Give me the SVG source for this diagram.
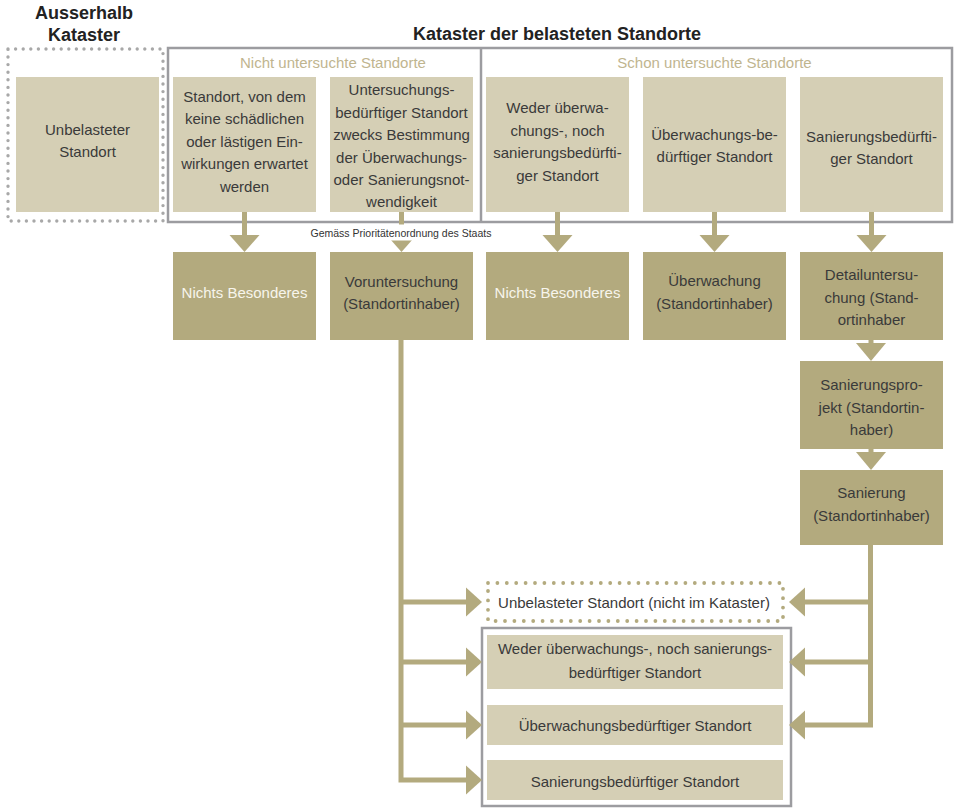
<svg xmlns="http://www.w3.org/2000/svg" width="955" height="808" viewBox="0 0 955 808">
<style>
  .t{font-family:"Liberation Sans",Arial,sans-serif;font-size:15px;fill:#3a3a3a;text-anchor:middle}
  .w{fill:#f7f5ec}
  .h{font-family:"Liberation Sans",Arial,sans-serif;font-size:18px;font-weight:bold;fill:#222;text-anchor:middle}
  .sub{font-family:"Liberation Sans",Arial,sans-serif;font-size:15px;fill:#bfb58f;text-anchor:middle}
  .sm{font-family:"Liberation Sans",Arial,sans-serif;font-size:10.5px;fill:#333;text-anchor:middle}
  .lt{fill:#d5cfb5}
  .dk{fill:#b3aa7e}
  .frame{fill:none;stroke:#9c9ca0;stroke-width:2.5}
  .dotg{fill:none;stroke:#a8a8a8;stroke-width:3.4;stroke-linecap:round;stroke-dasharray:0 7.6}
  .dott{fill:none;stroke:#b3aa7e;stroke-width:3.8;stroke-linecap:round;stroke-dasharray:0 9.4}
  .stem{stroke:#b3aa7e;stroke-width:5;fill:none}
  .head{fill:#b3aa7e}
</style>

<!-- titles -->
<g id="titles">
  <text class="h" x="84" y="19">Ausserhalb</text>
  <text class="h" x="84" y="41">Kataster</text>
  <text class="h" x="557" y="40">Kataster der belasteten Standorte</text>
</g>

<!-- frames -->
<g id="frames">
  <rect class="dotg" x="8" y="49" width="155" height="172"/>
  <rect class="frame" x="168" y="48" width="784" height="174"/>
  <line class="frame" x1="481" y1="48" x2="481" y2="222"/>
  <text class="sub" x="333" y="68">Nicht untersuchte Standorte</text>
  <text class="sub" x="714.5" y="68">Schon untersuchte Standorte</text>
  <rect class="frame" x="482" y="628" width="309" height="178"/>
  <rect class="dott" x="488" y="583" width="295" height="38"/>
</g>

<!-- connectors -->
<g id="connectors">
  <line class="stem" x1="244.5" y1="212" x2="244.5" y2="237"/>
  <polygon class="head" points="229.5,235 259.5,235 244.5,252"/>
  <line class="stem" x1="401.5" y1="212" x2="401.5" y2="237"/>
  <polygon class="head" points="386.5,235 416.5,235 401.5,252"/>
  <line class="stem" x1="557.5" y1="212" x2="557.5" y2="237"/>
  <polygon class="head" points="542.5,235 572.5,235 557.5,252"/>
  <line class="stem" x1="714.5" y1="212" x2="714.5" y2="237"/>
  <polygon class="head" points="699.5,235 729.5,235 714.5,252"/>
  <line class="stem" x1="871.5" y1="212" x2="871.5" y2="237"/>
  <polygon class="head" points="856.5,235 886.5,235 871.5,252"/>

  <line class="stem" x1="871" y1="340" x2="871" y2="345"/>
  <polygon class="head" points="856,343 886,343 871,361"/>
  <line class="stem" x1="871" y1="449" x2="871" y2="454"/>
  <polygon class="head" points="856,452 886,452 871,470"/>

  <path class="stem" d="M401 340 V782 M398.5 602 H468 M398.5 662 H468 M398.5 725 H468 M398.5 780 H468"/>
  <polygon class="head" points="466,587.5 466,616.5 482,602"/>
  <polygon class="head" points="466,647.5 466,676.5 482,662"/>
  <polygon class="head" points="466,710.5 466,739.5 482,725"/>
  <polygon class="head" points="466,765.5 466,794.5 482,780"/>

  <path class="stem" d="M870.5 545 V727 M873 602 H803 M873 662 H803 M873 725 H803"/>
  <polygon class="head" points="805,587.5 805,616.5 789,602"/>
  <polygon class="head" points="805,647.5 805,676.5 789,662"/>
  <polygon class="head" points="805,710.5 805,739.5 789,725"/>

  <rect x="306" y="224.5" width="190" height="16" fill="#fff"/>
  <text class="sm" x="401" y="237">Gemäss Prioritätenordnung des Staats</text>
</g>

<!-- top row -->
<g id="unbelastet">
  <rect class="lt" x="16" y="77" width="143" height="135"/>
  <text class="t" x="87.5" y="135">Unbelasteter</text>
  <text class="t" x="87.5" y="157">Standort</text>
</g>
<g id="keine-einwirkungen">
  <rect class="lt" x="173" y="77" width="143" height="135"/>
  <text class="t" x="244.5" y="101.5">Standort, von dem</text>
  <text class="t" x="244.5" y="124">keine schädlichen</text>
  <text class="t" x="244.5" y="146.5">oder lästigen Ein-</text>
  <text class="t" x="244.5" y="169">wirkungen erwartet</text>
  <text class="t" x="244.5" y="191.5">werden</text>
</g>
<g id="untersuchungsbeduerftig">
  <rect class="lt" x="330" y="77" width="143" height="135"/>
  <text class="t" x="401.5" y="95">Untersuchungs-</text>
  <text class="t" x="401.5" y="117.5">bedürftiger Standort</text>
  <text class="t" x="401.5" y="140">zwecks Bestimmung</text>
  <text class="t" x="401.5" y="162.5">der Überwachungs-</text>
  <text class="t" x="401.5" y="185">oder Sanierungsnot-</text>
  <text class="t" x="401.5" y="207">wendigkeit</text>
</g>
<g id="weder">
  <rect class="lt" x="486" y="77" width="143" height="135"/>
  <text class="t" x="557.5" y="113">Weder überwa-</text>
  <text class="t" x="557.5" y="135.5">chungs-, noch</text>
  <text class="t" x="557.5" y="158">sanierungsbedürfti-</text>
  <text class="t" x="557.5" y="180.5">ger Standort</text>
</g>
<g id="ueberwachungsbeduerftig">
  <rect class="lt" x="643" y="77" width="143" height="135"/>
  <text class="t" x="714.5" y="140">Überwachungs-be-</text>
  <text class="t" x="714.5" y="162">dürftiger Standort</text>
</g>
<g id="sanierungsbeduerftig">
  <rect class="lt" x="800" y="77" width="143" height="135"/>
  <text class="t" x="871.5" y="141.5">Sanierungsbedürfti-</text>
  <text class="t" x="871.5" y="164">ger Standort</text>
</g>

<!-- second row -->
<g id="nichts1">
  <rect class="dk" x="173" y="252" width="143" height="88"/>
  <text class="t w" x="244.5" y="298">Nichts Besonderes</text>
</g>
<g id="voruntersuchung">
  <rect class="dk" x="330" y="252" width="143" height="88"/>
  <text class="t" x="401.5" y="286.5">Voruntersuchung</text>
  <text class="t" x="401.5" y="309">(Standortinhaber)</text>
</g>
<g id="nichts2">
  <rect class="dk" x="486" y="252" width="143" height="88"/>
  <text class="t w" x="557.5" y="298">Nichts Besonderes</text>
</g>
<g id="ueberwachung">
  <rect class="dk" x="643" y="252" width="143" height="88"/>
  <text class="t" x="714.5" y="286">Überwachung</text>
  <text class="t" x="714.5" y="308.5">(Standortinhaber)</text>
</g>
<g id="detailuntersuchung">
  <rect class="dk" x="800" y="252" width="143" height="88"/>
  <text class="t" x="871.5" y="280">Detailuntersu-</text>
  <text class="t" x="871.5" y="302.5">chung (Stand-</text>
  <text class="t" x="871.5" y="325">ortinhaber</text>
</g>
<g id="sanierungsprojekt">
  <rect class="dk" x="800" y="361" width="143" height="88"/>
  <text class="t" x="871.5" y="390">Sanierungspro-</text>
  <text class="t" x="871.5" y="412.5">jekt (Standortin-</text>
  <text class="t" x="871.5" y="435">haber)</text>
</g>
<g id="sanierung">
  <rect class="dk" x="800" y="470" width="143" height="75"/>
  <text class="t" x="871.5" y="498">Sanierung</text>
  <text class="t" x="871.5" y="520.5">(Standortinhaber)</text>
</g>

<!-- results -->
<g id="res-unbelastet">
  <text class="t" x="634" y="608">Unbelasteter Standort (nicht im Kataster)</text>
</g>
<g id="res-weder">
  <rect class="lt" x="487" y="635" width="296" height="54"/>
  <text class="t" x="635" y="654">Weder überwachungs-, noch sanierungs-</text>
  <text class="t" x="635" y="678">bedürftiger Standort</text>
</g>
<g id="res-ueberwachung">
  <rect class="lt" x="487" y="705" width="296" height="40"/>
  <text class="t" x="635" y="731">Überwachungsbedürftiger Standort</text>
</g>
<g id="res-sanierung">
  <rect class="lt" x="487" y="760" width="296" height="40"/>
  <text class="t" x="635" y="786.5">Sanierungsbedürftiger Standort</text>
</g>
</svg>
